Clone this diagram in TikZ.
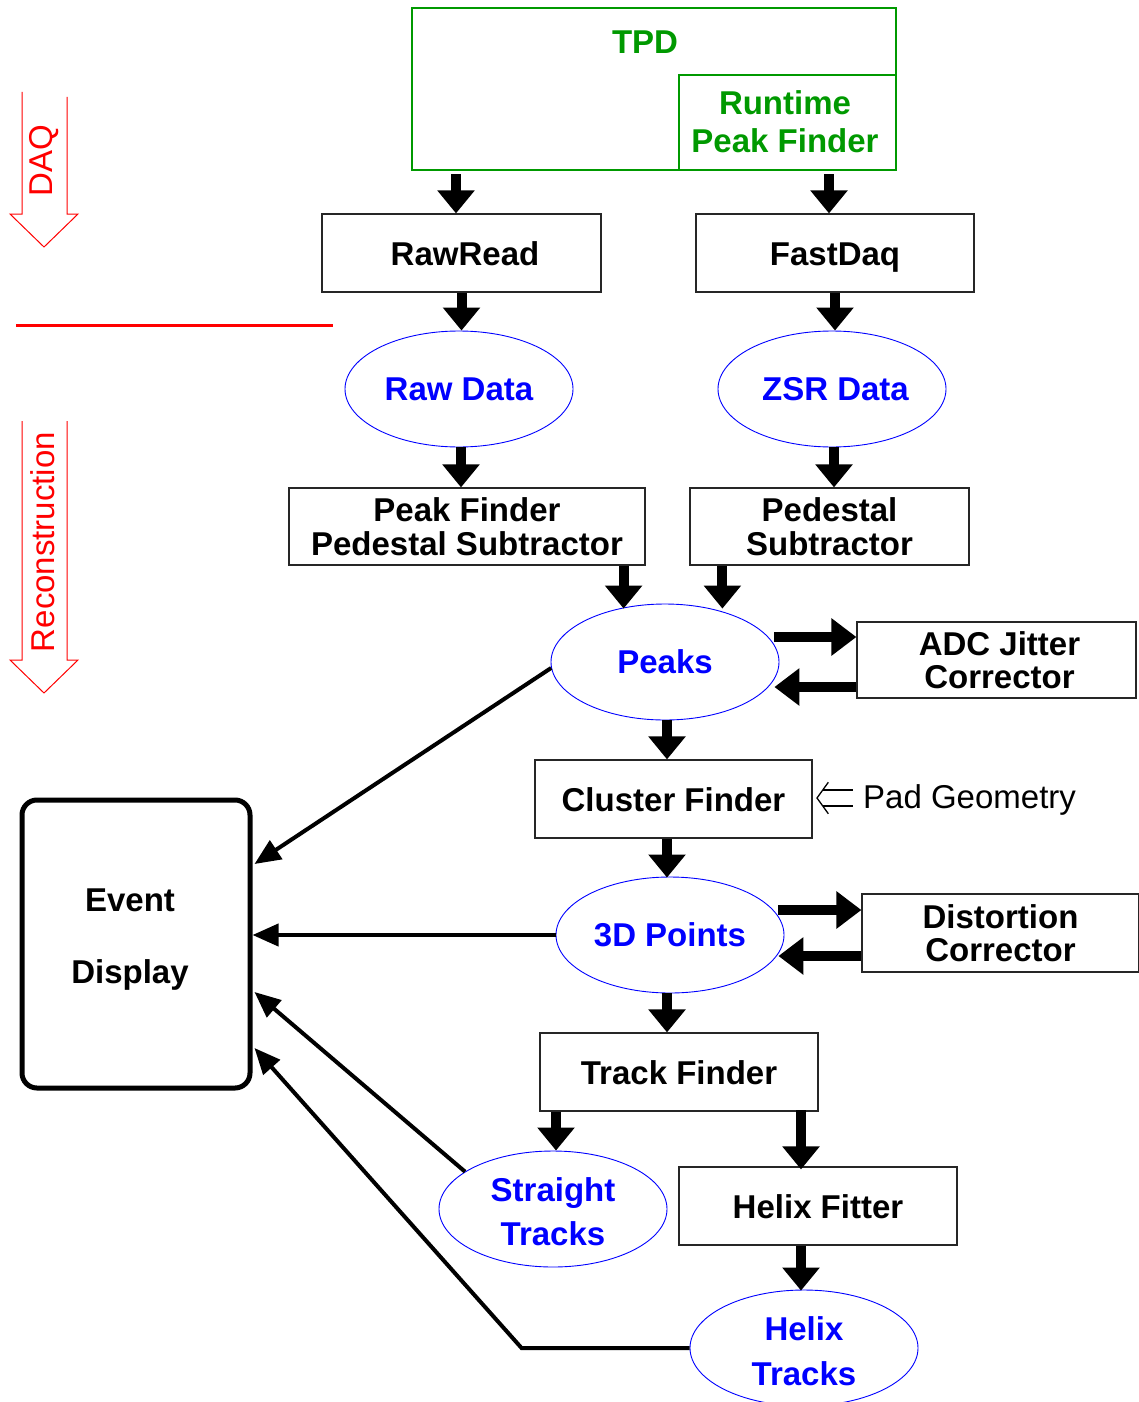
\documentclass[tikz,border=0pt]{standalone}
\usepackage{fontspec}
\setmainfont{Liberation Sans}
\usetikzlibrary{shapes.geometric,arrows.meta,calc}
\definecolor{tpdgreen}{RGB}{0,153,0}
\newcommand\fsb[1]{\fontsize{33}{#1}\selectfont\bfseries}
\newcommand\fsr{\fontsize{33}{36}\selectfont}
\tikzset{
  box/.style={draw=black!85, line width=1.2pt, inner sep=0pt, align=center, font=\fsb{34}},
  oneline/.style={text height=24pt, text depth=0pt},
  gbox/.style={draw=tpdgreen, line width=2pt, inner sep=0pt},
  oval/.style={ellipse, draw=blue, line width=0.9pt, minimum width=228pt, minimum height=116pt, inner sep=0pt, align=center, text=blue, font=\fsb{44}},
  flow/.style={line width=10pt, -{Triangle[width=36pt,length=23pt]}},
  sideflow/.style={line width=10pt, -{Triangle[width=36pt,length=25pt]}},
  feed/.style={line width=4pt, -{Triangle[width=22pt,length=26pt]}},
  redarrow/.style={draw=red, line width=1pt, line join=miter},
  openarrow/.style={draw=black, line width=1.3pt, line join=miter},
}
\begin{document}
\begin{tikzpicture}[x=1pt,y=-1pt]
\useasboundingbox (0,0) rectangle (1139,1402);

% TPD
\node[gbox, minimum width=484pt, minimum height=162pt] (tpd) at (654,89) {};
\node[gbox, minimum width=217pt, minimum height=95pt] (rpf) at (787.5,122.5) {};
\node[text=tpdgreen, font=\fsb{38}, inner sep=0pt] (tpdlabel) at (645,42) {TPD};
\node[text=tpdgreen, font=\fsb{38}, inner sep=0pt, align=center] (rpflabel) at (785,122) {Runtime\\Peak Finder};

% boxes
\node[box, oneline, minimum width=279pt, minimum height=78pt] (raw) at (461.5,253) {\hspace*{7pt}RawRead};
\node[box, oneline, minimum width=278pt, minimum height=78pt] (fast) at (835,253) {FastDaq};
\node[oval] (rawdata) at (459,389) {Raw Data};
\node[oval] (zsr) at (832,389) {\hspace*{7pt}ZSR Data};
\node[box, minimum width=356pt, minimum height=77pt] (pfps) at (467,526.5) {Peak Finder\\Pedestal Subtractor};
\node[box, minimum width=279pt, minimum height=77pt] (ps) at (829.5,526.5) {Pedestal\\Subtractor};
\node[oval] (peaks) at (665,662) {Peaks};
\node[box, minimum width=279pt, minimum height=76pt, font=\fsb{33}] (adc) at (996.5,660) {\hspace*{6pt}ADC Jitter\\\hspace*{6pt}Corrector};
\node[box, oneline, minimum width=277pt, minimum height=78pt] (cluster) at (673.5,799) {Cluster Finder};
\draw[openarrow] (828.3,782.3) -- (817,798) -- (828.3,813.7);
\draw[openarrow] (822.5,790) -- (853,790);
\draw[openarrow] (822.5,806) -- (853,806);
\node[inner sep=0pt, anchor=base west, font=\fsr] (pad) at (863,808) {Pad Geometry};
\node[oval] (points) at (670,935) {3D Points};
\node[box, minimum width=277pt, minimum height=78pt, font=\fsb{33}] (dist) at (1000.5,933) {Distortion\\Corrector};
\node[box, oneline, minimum width=278pt, minimum height=78pt] (track) at (679,1072) {Track Finder};
\node[oval] (straight) at (553,1209) {\rule{0pt}{30pt}Straight\\Tracks};
\node[box, oneline, minimum width=278pt, minimum height=78pt] (helixfit) at (818,1206) {Helix Fitter};
\node[oval, font=\fsb{45}] (helixtr) at (804,1348) {\rule{0pt}{30pt}Helix\\Tracks};

% event display
\node[draw=black, line width=5pt, rounded corners=15pt, minimum width=228pt, minimum height=288pt, inner sep=0pt] (event) at (136,944) {};
\node[font=\fsb{72}, align=center, inner sep=0pt] (eventtxt) at (130,940) {Event\\Display};

% flow arrows
\draw[flow] ($(raw.north)+(-5.5,-39)$) -- ($(raw.north)+(-5.5,0)$);
\draw[flow] ($(fast.north)+(-6,-39)$) -- ($(fast.north)+(-6,0)$);
\draw[flow] (raw.south) -- (raw.south |- rawdata.north);
\draw[flow] (fast.south) -- (fast.south |- zsr.north);
\draw[flow] ($(rawdata.south)+(2,0)$) -- ($(rawdata.south |- pfps.north)+(2,0)$);
\draw[flow] ($(zsr.south)+(2,0)$) -- ($(zsr.south |- ps.north)+(2,0)$);
\draw[flow] ($(pfps.south east)+(-22,0)$) -- ($(pfps.south east)+(-22,43)$);
\draw[flow] ($(ps.south west)+(33,0)$) -- ($(ps.south west)+(33,43)$);
\draw[sideflow] ($(adc.west)+(-82,-23)$) -- ($(adc.west)+(0,-23)$);
\draw[sideflow] ($(adc.west)+(0,27)$) -- ($(adc.west)+(-82,27)$);
\draw[flow] ($(peaks.south)+(2,0)$) -- ($(peaks.south |- cluster.north)+(2,0)$);
\draw[flow] ($(points.north |- cluster.south)+(-3,0)$) -- ($(points.north)+(-3,1)$);
\draw[sideflow] ($(dist.west)+(-83,-23)$) -- ($(dist.west)+(0,-23)$);
\draw[sideflow] ($(dist.west)+(0,23)$) -- ($(dist.west)+(-83,23)$);
\draw[flow] ($(points.south)+(-3,0)$) -- ($(points.south |- track.north)+(-3,0)$);
\draw[flow] ($(straight.north |- track.south)+(3,0)$) -- ($(straight.north)+(3,0)$);
\draw[flow] ($(helixfit.north)+(-17,-56)$) -- ($(helixfit.north)+(-17,3)$);
\draw[flow] ($(helixfit.south)+(-17,0)$) -- ($(helixfit.south)+(-17,45)$);

% feeds into event display
\draw[feed] (peaks.183) -- ($(event.east)+(2,-80)$);
\draw[feed] (points.west) -- (points.west -| event.east);
\draw[feed] (straight.157) -- ($(event.east)+(2,48)$);
\draw[feed, line join=miter] (helixtr.west) -- ++(-168,0) -- ($(event.east)+(2,104)$);

% left side markers
\draw[red, line width=3pt] (16,325) -- (333,325);
\draw[redarrow] (22,92) -- (22,214) -- (10,214) -- (44,247) -- (78,214) -- (67,214) -- (67,97);
\node[rotate=90, text=red, font=\fontsize{33}{36}\selectfont, inner sep=0pt] (daq) at (44,161) {DAQ};
\draw[redarrow] (22,421) -- (22,660) -- (10,660) -- (44,693) -- (78,660) -- (67,660) -- (67,421);
\node[rotate=90, text=red, font=\fontsize{33}{36}\selectfont, inner sep=0pt] (reco) at (43,542) {Reconstruction};
\end{tikzpicture}
\end{document}
